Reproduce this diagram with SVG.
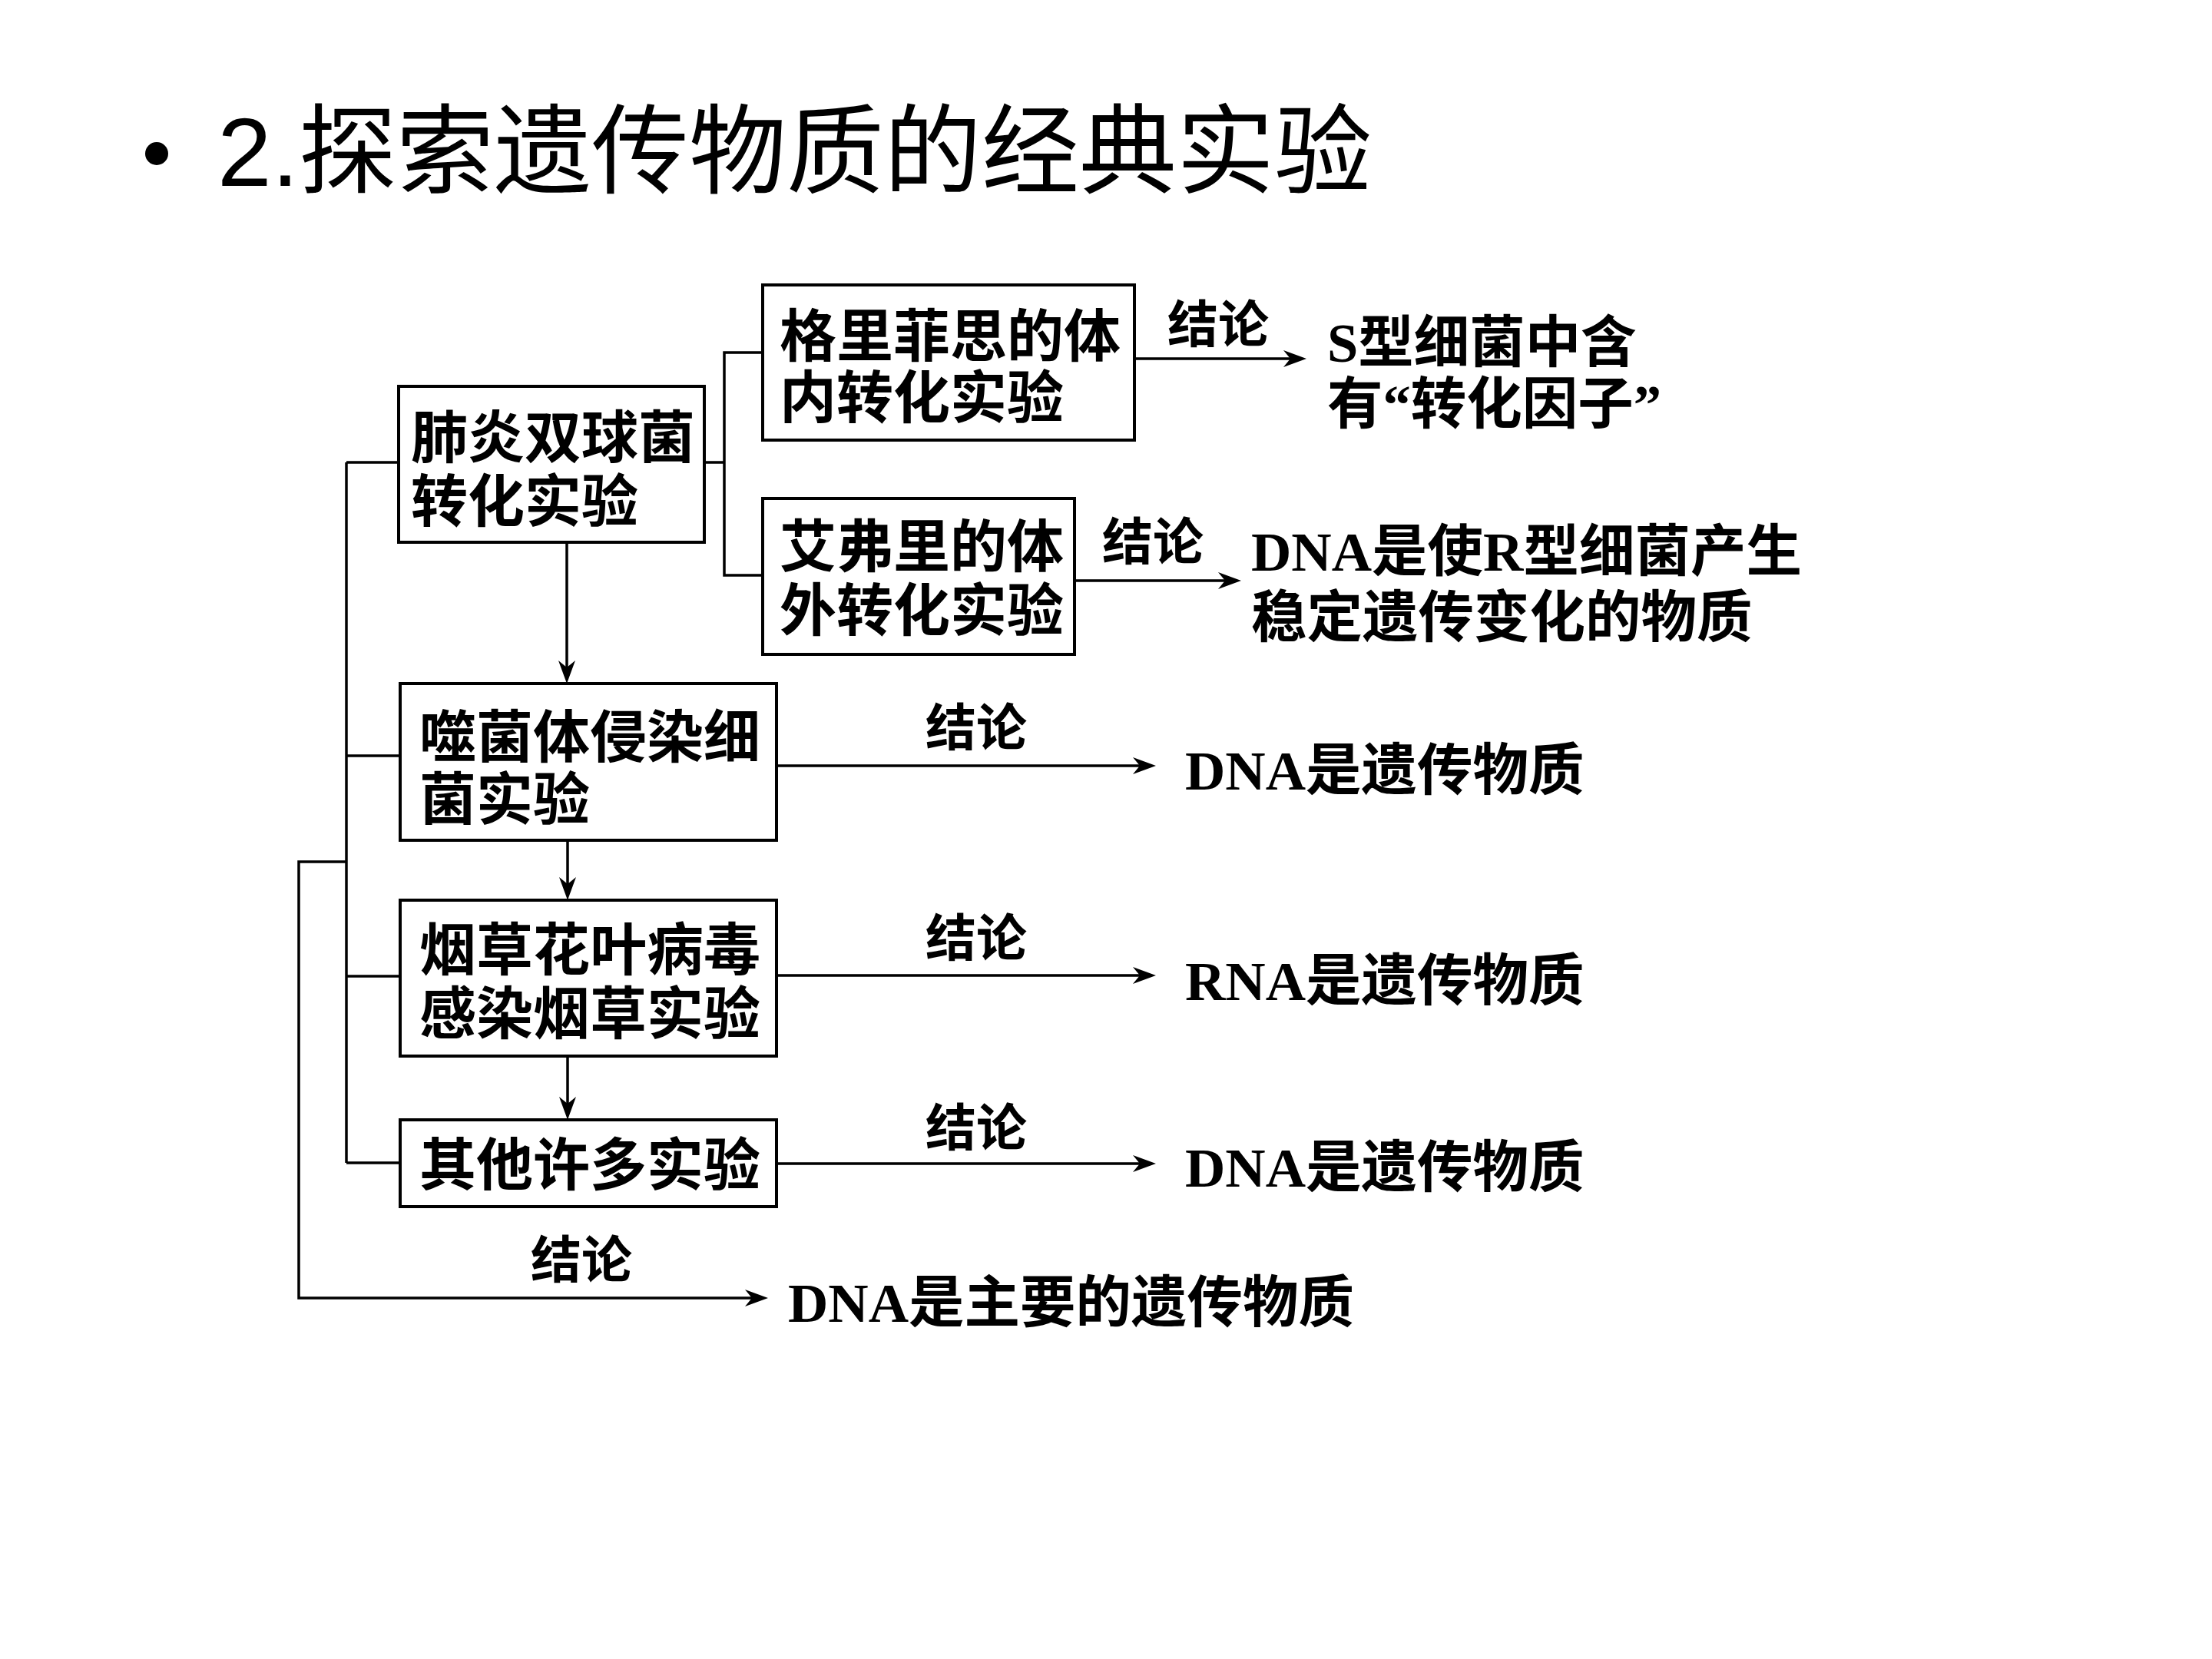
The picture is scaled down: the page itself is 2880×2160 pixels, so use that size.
<svg xmlns="http://www.w3.org/2000/svg" width="2880" height="2160" viewBox="0 0 2880 2160">
<defs>
<style>
.bg{fill:#ffffff}
.box{fill:#ffffff;stroke:#000;stroke-width:4}
.ln{fill:none;stroke:#000;stroke-width:3.5}
.t{font-family:"Liberation Serif","Noto Sans CJK SC",serif;font-size:74px;font-weight:bold;fill:#000}
.r{font-family:"Liberation Serif","Noto Sans CJK SC",serif;font-size:72.5px;font-weight:bold;fill:#000}
.c{font-family:"Liberation Serif","Noto Sans CJK SC",serif;font-size:66px;font-weight:bold;fill:#000}
.title{font-family:"Liberation Sans","Noto Sans CJK SC",sans-serif;font-size:127px;fill:#000}
</style>
<marker id="ah" markerUnits="userSpaceOnUse" viewBox="-32 -12 40 24" markerWidth="40" markerHeight="24" refX="-6" refY="0" orient="auto">
<path d="M0,0 L-30,-11 L-21,0 L-30,11 Z" fill="#000"/>
</marker>
</defs>
<rect class="bg" x="0" y="0" width="2880" height="2160"/>
<g id="title">
<circle cx="204" cy="200" r="15" fill="#000"/>
<text class="title" x="283" y="242">2.探索遗传物质的经典实验</text>
</g>
<g id="connectors">
<polyline class="ln" points="451,602 451,1514"/>
<line class="ln" x1="451" y1="602" x2="519" y2="602"/>
<line class="ln" x1="451" y1="984" x2="521" y2="984"/>
<line class="ln" x1="451" y1="1271" x2="521" y2="1271"/>
<line class="ln" x1="451" y1="1514" x2="521" y2="1514"/>
<polyline class="ln" points="451,1122 389,1122 389,1690 994,1690" marker-end="url(#ah)"/>
<line class="ln" x1="917" y1="602" x2="943" y2="602"/>
<polyline class="ln" points="993,459 943,459 943,749 993,749"/>
<line class="ln" x1="1477" y1="467" x2="1695" y2="467" marker-end="url(#ah)"/>
<line class="ln" x1="1399" y1="756" x2="1610" y2="756" marker-end="url(#ah)"/>
<line class="ln" x1="1011" y1="997" x2="1499" y2="997" marker-end="url(#ah)"/>
<line class="ln" x1="1011" y1="1270" x2="1499" y2="1270" marker-end="url(#ah)"/>
<line class="ln" x1="1011" y1="1515" x2="1499" y2="1515" marker-end="url(#ah)"/>
<line class="ln" x1="738" y1="706" x2="738" y2="884" marker-end="url(#ah)"/>
<line class="ln" x1="739" y1="1094" x2="739" y2="1166" marker-end="url(#ah)"/>
<line class="ln" x1="739" y1="1375" x2="739" y2="1452" marker-end="url(#ah)"/>
</g>
<g id="node-feiyan">
<rect class="box" x="519" y="503" width="398" height="203"/>
<text class="t" x="535" y="596">肺炎双球菌</text>
<text class="t" x="535" y="679">转化实验</text>
</g>
<g id="node-griffith">
<rect class="box" x="993" y="371" width="484" height="202"/>
<text class="t" x="1015" y="464">格里菲思的体</text>
<text class="t" x="1015" y="544">内转化实验</text>
</g>
<g id="node-avery">
<rect class="box" x="993" y="649" width="406" height="203"/>
<text class="t" x="1015" y="738">艾弗里的体</text>
<text class="t" x="1015" y="821">外转化实验</text>
</g>
<g id="node-phage">
<rect class="box" x="521" y="890" width="490" height="204"/>
<text class="t" x="546" y="986">噬菌体侵染细</text>
<text class="t" x="546" y="1067">菌实验</text>
</g>
<g id="node-tmv">
<rect class="box" x="521" y="1172" width="490" height="203"/>
<text class="t" x="546" y="1263">烟草花叶病毒</text>
<text class="t" x="546" y="1346">感染烟草实验</text>
</g>
<g id="node-other">
<rect class="box" x="521" y="1458" width="490" height="113"/>
<text class="t" x="546" y="1543">其他许多实验</text>
</g>
<g id="labels">
<text class="c" x="1520" y="446">结论</text>
<text class="r" x="1728" y="471">S型细菌中含</text>
<text class="r" x="1728" y="551">有“转化因子”</text>
<text class="c" x="1435" y="729">结论</text>
<text class="r" x="1629" y="743">DNA是使R型细菌产生</text>
<text class="r" x="1629" y="829">稳定遗传变化的物质</text>
<text class="c" x="1205" y="971">结论</text>
<text class="r" x="1543" y="1028">DNA是遗传物质</text>
<text class="c" x="1205" y="1245">结论</text>
<text class="r" x="1543" y="1302">RNA是遗传物质</text>
<text class="c" x="1205" y="1492">结论</text>
<text class="r" x="1543" y="1545">DNA是遗传物质</text>
<text class="c" x="691" y="1664">结论</text>
<text class="r" x="1026" y="1721">DNA是主要的遗传物质</text>
</g>
</svg>
